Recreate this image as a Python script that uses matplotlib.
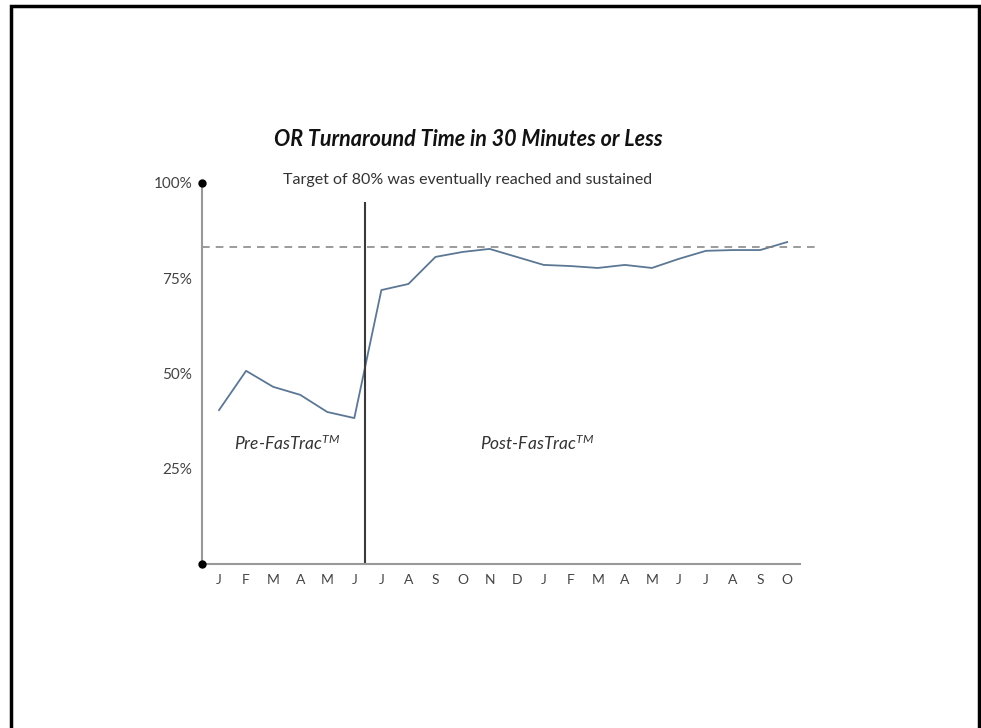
import matplotlib
matplotlib.use("Agg")
import matplotlib.pyplot as plt
from matplotlib.patches import Rectangle

plt.rcParams["font.family"] = ["Lato", "DejaVu Sans"]
plt.rcParams["mathtext.fontset"] = "custom"
plt.rcParams["mathtext.it"] = "Lato:italic"
plt.rcParams["mathtext.rm"] = "Lato"

# Monthly data, Jan of year 1 through Oct of year 2
months = ["J", "F", "M", "A", "M", "J", "J", "A", "S", "O", "N",
          "D", "J", "F", "M", "A", "M", "J", "J", "A", "S", "O"]
pct_30min = [40.4, 50.7, 46.5, 44.4, 39.9, 38.3, 71.9, 73.5, 80.6, 81.9, 82.7,
             80.6, 78.5, 78.2, 77.7, 78.5, 77.7, 80.1, 82.2, 82.4, 82.4, 84.5]
target_line = 83.2
go_live = 5.4          # FasTrac start, between the two Junes
y_ticks = [25, 50, 75, 100]
y_labels = ["25%", "50%", "75%", "100%"]

fig = plt.figure(figsize=(9.81, 7.28), dpi=100)
ax = fig.add_axes([202 / 981, 164 / 728, 616 / 981, 381 / 728])

x = list(range(len(months)))
ax.plot(x, pct_30min, color="#5b7793", lw=1.3)
ax.axhline(target_line, color="#808080", lw=1.1, ls=(0, (5, 4)))
ax.vlines(go_live, 0, 95, color="#3a3a3a", lw=1.5)

ax.set_xlim(-0.63, 22.14)
ax.set_ylim(0, 100)

# axes drawn as thin gray lines with dots at the ends of the y axis
for s in ["top", "right"]:
    ax.spines[s].set_visible(False)
ax.spines["left"].set_color("#999999")
ax.spines["bottom"].set_color("#999999")
ax.spines["left"].set_linewidth(1.5)
ax.spines["bottom"].set_linewidth(1.5)
ax.spines["bottom"].set_bounds(-0.63, 21.47)
ax.plot([-0.63, -0.63], [0, 100], "o", color="black", ms=5,
        clip_on=False, zorder=5)

ax.set_xticks(x)
ax.set_xticklabels(months, fontsize=10, color="#444444")
ax.set_yticks(y_ticks)
ax.set_yticklabels(y_labels, fontsize=11, color="#444444")
ax.tick_params(length=0, pad=7)

ax.text(2.5, 31.8, r"Pre-FasTrac$^{\mathit{TM}}$", style="italic",
        fontsize=12.5, color="#333333", ha="center", va="center")
ax.text(11.75, 31.8, r"Post-FasTrac$^{\mathit{TM}}$", style="italic",
        fontsize=12.5, color="#333333", ha="center", va="center")

fig.text(468 / 981, 1 - 140 / 728, "OR Turnaround Time in 30 Minutes or Less",
         fontsize=15.5, fontweight="bold", style="italic", ha="center", va="center",
         color="#111111")
fig.text(468 / 981, 1 - 180 / 728, "Target of 80% was eventually reached and sustained",
         fontsize=11.5, ha="center", va="center", color="#333333")

# page frame around the picture
fig.patches.append(Rectangle((11 / 981, -0.05), 968 / 981, 1 - 6 / 728 + 0.05,
                             transform=fig.transFigure, fill=False,
                             edgecolor="black", lw=2.5))

fig.savefig("out.png", dpi=100)
